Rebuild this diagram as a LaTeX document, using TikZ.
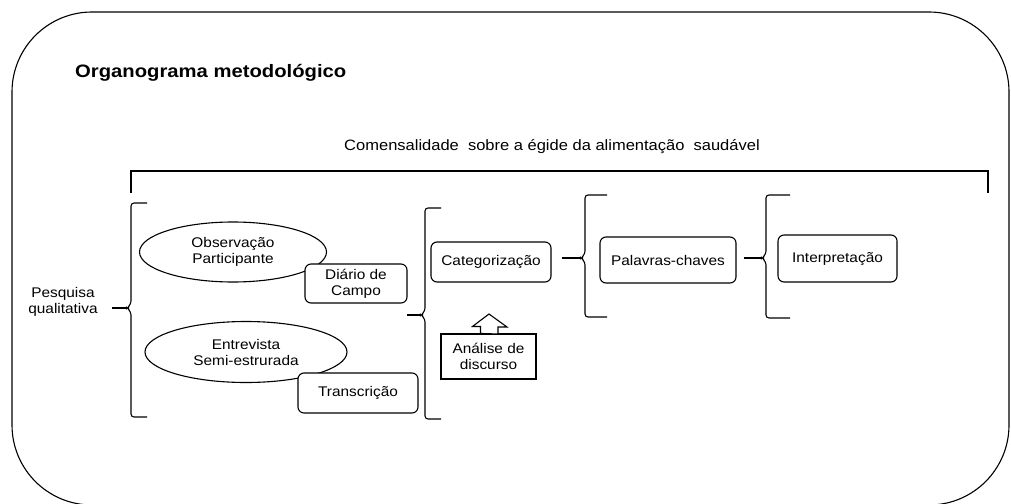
\documentclass[tikz,border=0pt]{standalone}
\usepackage{fontspec}
\setmainfont{Liberation Sans}
\newfontfamily\txtfont[FakeStretch=1.1]{Liberation Sans}
\newfontfamily\ttlfont[FakeStretch=1.125]{Liberation Sans}
\usetikzlibrary{shapes.geometric}
\begin{document}
\begin{tikzpicture}[x=1pt,y=-1pt,
  every node/.style={font=\txtfont\fontsize{14}{16}\selectfont, align=center, inner sep=0pt},
  ln/.style={line width=1.1pt, black},
  rbox/.style={ln, draw, fill=white, rounded corners=6pt},
  sbox/.style={ln, draw, fill=white},
  ell/.style={ln, draw, fill=white, ellipse},
  brace/.style={ln, rounded corners=3pt}
]
\useasboundingbox (0,0) rectangle (1011,503);
\clip (0,0) rectangle (1011,503);
% outer frame
\draw[ln, rounded corners=80pt] (12,12) rectangle (1009,505);
% title
\node[anchor=west, font=\ttlfont\bfseries\fontsize{18}{20}\selectfont] (title) at (75,73) {Organograma metodológico};
\node[font=\txtfont\fontsize{15}{16}\selectfont] (com) at (552,147) {Comensalidade\ \ sobre a égide da alimentação\ \ saudável};
% top bracket
\coordinate (tl) at (131,193);
\coordinate (tr) at (988,193);
\draw[ln] (tl) -- (131,171) -- (988,171) -- (tr);
% left text
\node (pq) at (63,302) {Pesquisa\\qualitativa};
% brace 1
\coordinate (b1) at (127,308);
\draw[brace] (147,203) -- (131,203) -- (131,304) -- (b1) -- (131,312) -- (131,417) -- (147,417);
\draw[ln] (112,308) -- (b1);
% ellipses and boxes
\node[ell, minimum width=187pt, minimum height=60pt] (e1) at (233,252) {Observação\\Participante};
\node[rbox, minimum width=102pt, minimum height=39pt] (d1) at (356,283.5) {Diário de\\Campo};
\node[ell, minimum width=202pt, minimum height=61pt] (e2) at (246,352) {Entrevista\\Semi-estrurada};
\node[rbox, minimum width=120pt, minimum height=40pt] (t1) at (358,393) {Transcrição};
% brace 2
\coordinate (b2) at (421,315);
\draw[brace] (441,208) -- (425,208) -- (425,311) -- (b2) -- (425,319) -- (425,419) -- (441,419);
\draw[ln] (407,315) -- (b2);
% categorizacao
\node[rbox, minimum width=120pt, minimum height=40pt] (cat) at (491,262) {Categorização};
\node[sbox, minimum width=95pt, minimum height=45pt] (ad) at (488.5,356.5) {Análise de\\discurso};
\draw[ln, fill=white] (ad.north) ++(-8,0) -- ++(0,-7) -- ++(-8,0) -- (489,314) -- (507,327) -- ++(-9,0) -- ++(0,7) -- cycle;
% brace 3
\coordinate (b3) at (581,258);
\draw[brace] (607,195) -- (585,195) -- (585,254) -- (b3) -- (585,262) -- (585,317) -- (607,317);
\draw[ln] ([xshift=10pt]cat.east |- b3) -- (b3);
\node[rbox, minimum width=136pt, minimum height=46pt] (pc) at (668,260) {Palavras-chaves};
% brace 4
\coordinate (b4) at (762,258);
\draw[brace] (790,195) -- (766,195) -- (766,254) -- (b4) -- (766,262) -- (766,318) -- (790,318);
\draw[ln] ([xshift=7pt]pc.east |- b4) -- (b4);
\node[rbox, minimum width=119pt, minimum height=47pt] (in) at (837.5,258.5) {Interpretação};
\end{tikzpicture}
\end{document}
